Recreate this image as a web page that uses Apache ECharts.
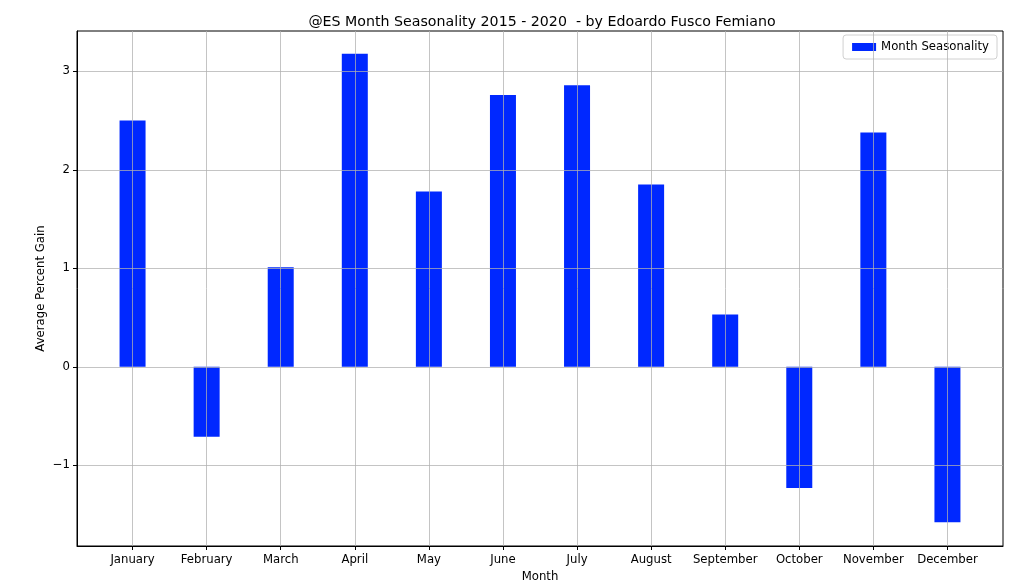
<!DOCTYPE html>
<html><head><meta charset="utf-8">
<script src="https://cdn.jsdelivr.net/npm/echarts@6/dist/echarts.min.js"></script>
<style>html,body{margin:0;padding:0;background:#fff}#c{width:1013px;height:583px}</style>
</head><body><div id="c"></div>
<script>
const months = ['January','February','March','April','May','June','July','August','September','October','November','December'];
const gains = [2.50, -0.71, 1.01, 3.18, 1.78, 2.76, 2.86, 1.85, 0.53, -1.23, 2.38, -1.58];
const yTicks = [-1, 0, 1, 2, 3];
const seriesName = 'Month Seasonality';
const titleText = '@ES Month Seasonality 2015 - 2020  - by Edoardo Fusco Femiano';

const font = 'DejaVu Sans';
const fs = 11.7;
const idx = months.map((m, i) => i);
const chart = echarts.init(document.getElementById('c'));
chart.setOption({
  animation: false,
  backgroundColor: '#fff',
  title: { text: titleText, left: 537, top: 10, textAlign: 'center',
    textStyle: { fontFamily: font, fontSize: 14.2, fontWeight: 'normal', color: '#000' } },
  legend: { right: 16, top: 35, itemWidth: 24, itemHeight: 8, itemGap: 8,
    padding: [6, 8, 6, 9], borderColor: '#d0d0d0', borderWidth: 1, borderRadius: 3,
    backgroundColor: 'rgba(255,255,255,0.8)',
    textStyle: { fontFamily: font, fontSize: fs, color: '#000' },
    data: [{ name: seriesName, icon: 'rect' }] },
  grid: { left: 77, right: 10, top: 31, bottom: 37, show: true, borderColor: '#000', borderWidth: 1,
    outerBoundsMode: 'none', containLabel: false },
  xAxis: {
    type: 'value', min: -0.75, max: 11.75, z: 5,
    name: 'Month', nameLocation: 'middle', nameGap: 25,
    nameTextStyle: { fontFamily: font, fontSize: fs, color: '#000' },
    axisLine: { show: true, onZero: false, lineStyle: { color: '#000' } },
    axisTick: { show: true, customValues: idx, length: 4, lineStyle: { color: '#000' } },
    axisLabel: { customValues: idx, fontFamily: font, fontSize: fs, color: '#000', margin: 8,
      formatter: v => months[Math.round(v)] },
    splitLine: { show: true, lineStyle: { color: 'rgba(176,176,176,0.75)', width: 1 } }
  },
  yAxis: {
    type: 'value', min: -1.82, max: 3.41, z: 5,
    name: 'Average Percent Gain', nameLocation: 'middle', nameGap: 30, nameMoveOverlap: false,
    nameTextStyle: { fontFamily: font, fontSize: fs, color: '#000' },
    axisLine: { show: true, onZero: false, lineStyle: { color: '#000' } },
    axisTick: { show: true, customValues: yTicks, length: 4, lineStyle: { color: '#000' } },
    axisLabel: { customValues: yTicks, fontFamily: font, fontSize: fs, color: '#000', margin: 7,
      formatter: v => (v < 0 ? '\u2212' + Math.abs(v) : String(v)) },
    splitLine: { show: true, lineStyle: { color: 'rgba(176,176,176,0.75)', width: 1 } }
  },
  series: [{
    name: seriesName, type: 'bar', barWidth: 26,
    itemStyle: { color: '#0028ff' },
    data: gains.map((g, i) => [i, g])
  }]
});
</script></body></html>
